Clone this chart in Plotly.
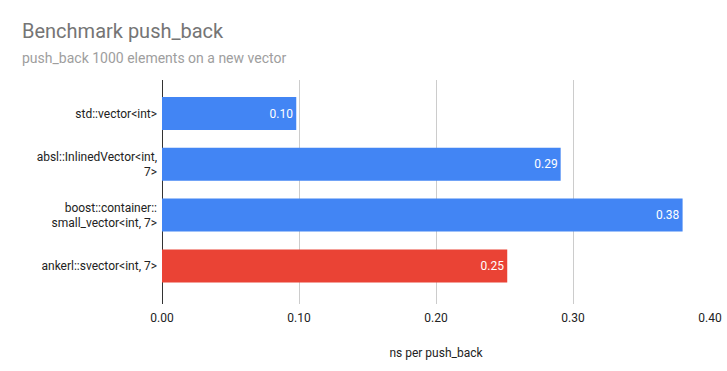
import plotly.graph_objects as go

categories = ["std::vector<int>", "absl::InlinedVector<int,<br>7>",
              "boost::container::<br>small_vector<int, 7>", "ankerl::svector<int, 7>"]
values = [0.098, 0.291, 0.380, 0.252]
colors = ["#4285F4", "#4285F4", "#4285F4", "#EA4335"]
x_ticks = [0.0, 0.1, 0.2, 0.3, 0.4]
x_tick_labels = ["0.00", "0.10", "0.20", "0.30", "0.40"]

W, H = 727, 371
L, R, T, B = 162, 17, 80, 67
pw, ph = W - L - R, H - T - B

def px(x):
    return (x - L) / pw

def py(y):
    return (H - B - y) / ph

fig = go.Figure(go.Bar(
    x=values, y=categories, orientation="h",
    marker=dict(color=colors, line=dict(width=0)),
    width=0.65,
    texttemplate="%{x:.2f}", textposition="inside", insidetextanchor="end",
    textfont=dict(color="white", size=12, family="Roboto"),
    cliponaxis=False,
))

fig.update_layout(
    width=W, height=H,
    margin=dict(l=L, r=R, t=T, b=B, autoexpand=False),
    paper_bgcolor="white", plot_bgcolor="white",
    font=dict(family="Roboto", size=12, color="#222222"),
    showlegend=False,
    xaxis=dict(range=[0, 0.4], tickvals=x_ticks, ticktext=x_tick_labels,
               automargin=False,
               showgrid=True, gridcolor="#cccccc", gridwidth=1,
               zeroline=True, zerolinecolor="#333333", zerolinewidth=1,
               showline=False, ticks="", ticklabelstandoff=5,
               tickfont=dict(size=12, color="#222222"),
               title=dict(text="ns per push_back", font=dict(size=12, color="#222222"), standoff=24)),
    yaxis=dict(type="category", range=[3.75, -0.66], showgrid=False,
               automargin=False,
               zeroline=False, showline=False, ticks="",
               tickfont=dict(size=12, color="#222222"), ticklabelstandoff=4),
    uniformtext=dict(minsize=8, mode="show"),
    annotations=[
        dict(text="Benchmark push_back", xref="paper", yref="paper",
             x=px(20), y=py(31), xanchor="left", yanchor="middle", showarrow=False,
             font=dict(size=20, color="#757575", family="Roboto")),
        dict(text="push_back 1000 elements on a new vector", xref="paper", yref="paper",
             x=px(20), y=py(58), xanchor="left", yanchor="middle", showarrow=False,
             font=dict(size=14, color="#9e9e9e", family="Roboto")),
    ],
)

fig.write_html("out.html", config={"displayModeBar": False},
               post_script="document.body.style.margin='0px';")
